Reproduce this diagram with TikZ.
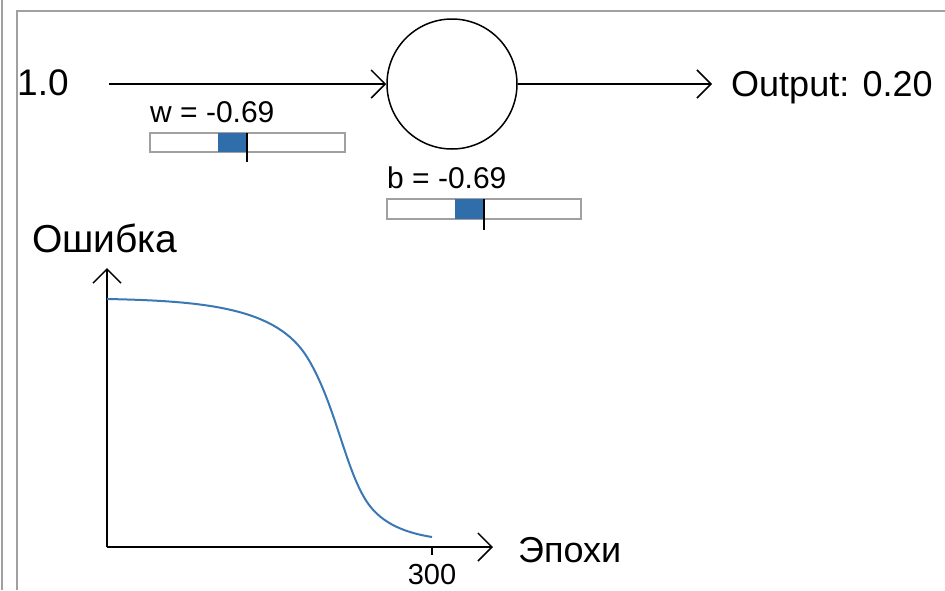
\documentclass[tikz,border=0pt]{standalone}
\usepackage{fontspec}
\setmainfont{Liberation Sans}
\usetikzlibrary{arrows.meta}

\definecolor{barblue}{HTML}{2F6EAA}
\definecolor{curveblue}{HTML}{3A78B5}
\definecolor{framegray}{HTML}{A0A0A0}

\tikzstyle{biglabel} = [
inner sep=0pt,
font=\fontsize{36}{40}\selectfont
]
\tikzstyle{smalllabel} = [
inner sep=0pt,
font=\fontsize{30}{33}\selectfont
]
\tikzstyle{neuron} = [
circle,
minimum size=130pt,
draw=black,
line width=1.5pt
]
\tikzstyle{slider} = [
draw=framegray,
line width=1.2pt,
fill=white
]
\tikzstyle{arrow} = [
line width=1.5pt,
-{Straight Barb[length=14pt,width=28pt,line width=1.5pt]}
]

\begin{document}
\begin{tikzpicture}[
x=1pt,
y=-1pt
]
\useasboundingbox (0,0) rectangle (945,590);

% frame of the window
\draw [framegray, line width=1.5pt] (2,0) -- (2,590);
\draw [framegray, line width=1.5pt] (17,590) -- (17,11) -- (945,11);

% neuron
\node (cell) [neuron] at (452,84) {};

\node (in) [biglabel, anchor=base west, font=\fontsize{37}{40}\selectfont] at (17,95) {1.0};

\node (out) [biglabel, anchor=base west] at (731,96) {Output: 0.20};

\draw [arrow, shorten <=40pt] (in.east |- cell) -- (cell);

\draw [arrow, shorten >=19pt] (cell) -- (out.west |- cell);

% weight slider
\node (wlabel) [smalllabel, anchor=base west] at (150,122) {w = -0.69};

\draw [slider] (150,133) rectangle (345,152);
\fill [barblue] (218,133) rectangle (247,152);
\draw [line width=1.5pt] (247,133) -- (247,162);

% bias slider
\node (blabel) [smalllabel, anchor=base west] at (387,188) {b = -0.69};

\draw [slider] (387,199) rectangle (581,219);
\fill [barblue] (455,199) rectangle (484,219);
\draw [line width=1.5pt] (484,199) -- (484,230);

% loss chart
\coordinate (origin) at (107,547);
\coordinate (ytop) at (107,268);
\coordinate (xend) at (493,547);

\node (ylabel) [biglabel, anchor=base west, font=\fontsize{39}{42}\selectfont] at (32,252) {Ошибка};

\node (xlabel) [biglabel, anchor=base west] at (518,562) {Эпохи};

\draw [arrow] (origin) -- (ytop);

\draw [arrow] (origin) -- (xend);

\draw [line width=1.5pt] (432,547) -- (432,555);

\node (xmax) [smalllabel, anchor=base, font=\fontsize{29}{31}\selectfont] at (432,584) {300};

\draw [curveblue, line width=2pt] (107,299)
.. controls (210,301) and (277,309) .. (307,357)
.. controls (335,402) and (345,469) .. (367,502)
.. controls (382,524.5) and (407,533) .. (432,537);

\end{tikzpicture}
\end{document}
